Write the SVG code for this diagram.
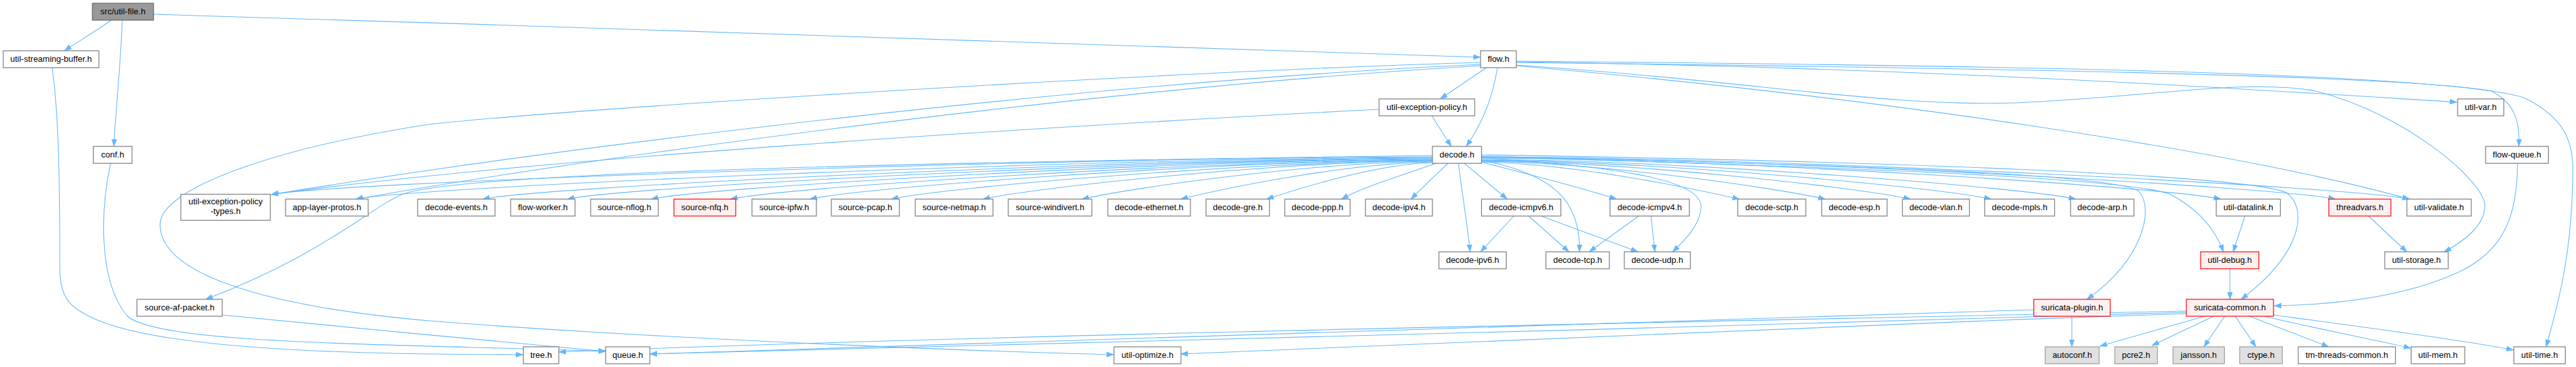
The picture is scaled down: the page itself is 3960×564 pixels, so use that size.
<svg xmlns="http://www.w3.org/2000/svg" width="3960" height="564" viewBox="0 0 3960 564">
<style>
.nd rect{fill:#ffffff;stroke:#7a7a7a;stroke-width:1.2}
.root rect{fill:#999999;stroke:#666666}
.ext rect{fill:#e0e0e0;stroke:#999999}
.tr rect{fill:#fff0f0;stroke:#ff0000}
text{font-family:"Liberation Sans",Arial,Helvetica,sans-serif;font-size:13px;text-anchor:middle;fill:#000000}
#edges path{fill:none;stroke:#63b8ff;stroke-width:1.1;marker-end:url(#a)}
</style>
<defs>
<marker id="a" markerWidth="12" markerHeight="10" refX="11" refY="4" orient="auto" markerUnits="userSpaceOnUse"><path d="M0,0 L11,4 L0,8 z" fill="#63b8ff" stroke="#63b8ff" stroke-width="0.5"/></marker>
</defs>
<rect width="3960" height="564" fill="#ffffff"/>
<g id="edges">
<path d="M171,31 C150,46 120,64 99,78"/>
<path d="M188,31 C186,90 178,170 175,225"/>
<path d="M236,22 C1000,45 1900,75 2276,88"/>
<path d="M80,104 C92,180 92,330 92,414 C92,460 110,475 150,492 C260,538 550,545 804,545"/>
<path d="M170,251 C155,320 150,430 195,485 C240,530 600,528 931,540"/>
<path d="M341,484 C500,500 800,528 931,540"/>
<path d="M2276,96 C1800,110 900,165 660,191 C420,228 246,290 246,345 C246,420 400,470 660,493 C1000,520 1500,540 1712,545"/>
<path d="M2276,99 C1700,125 900,220 417,299"/>
<path d="M2276,101 C1700,135 950,235 547,306"/>
<path d="M2120,168 C1600,195 800,245 417,299"/>
<path d="M2285,104 L2214,152"/>
<path d="M2302,104 C2296,140 2285,180 2254,225"/>
<path d="M2201,178 L2231,225"/>
<path d="M2331,95 C3000,105 3500,140 3777,157"/>
<path d="M2331,96 C3000,104 3700,115 3830,140 C3868,160 3874,190 3872,225"/>
<path d="M2331,94 C3000,100 3750,110 3880,150 C3945,182 3955,220 3955,260 C3955,380 3935,460 3914,533"/>
<path d="M2331,100 C2700,125 2900,165 3100,158 C3300,150 3450,120 3560,140 C3700,175 3820,280 3820,316 C3820,345 3790,370 3757,387"/>
<path d="M2331,101 C2900,150 3450,235 3704,306"/>
<path d="M2202,239 C1200,252 700,270 620,298 C570,318 500,390 316,460"/>
<path d="M2202,241 C1577,243 497,281 417,299"/>
<path d="M2202,242 C1623,244 627,288 547,306"/>
<path d="M2202,243 C1691,245 822,288 742,306"/>
<path d="M2202,244 C1736,246 952,288 872,306"/>
<path d="M2202,245 C1782,247 1081,288 1001,306"/>
<path d="M2202,246 C1824,248 1203,288 1123,306"/>
<path d="M2202,246 C1867,248 1325,288 1245,306"/>
<path d="M2202,247 C1911,249 1450,288 1370,306"/>
<path d="M2202,247 C1960,249 1591,288 1511,306"/>
<path d="M2202,248 C2013,250 1743,288 1663,306"/>
<path d="M2202,249 C2067,251 1880,290 1815,306"/>
<path d="M2202,250 C2113,252 1990,292 1947,306"/>
<path d="M2207,251 C2170,265 2100,285 2062,306"/>
<path d="M2226,251 C2210,266 2190,285 2169,306"/>
<path d="M2251,251 L2317,306"/>
<path d="M2242,251 C2248,300 2255,340 2260,387"/>
<path d="M2277,246 C2390,268 2430,310 2428,387"/>
<path d="M2277,242 C2450,255 2620,270 2615,320 C2612,345 2595,365 2571,387"/>
<path d="M2277,249 C2350,268 2430,288 2485,306"/>
<path d="M2277,249 C2416,251 2594,288 2674,306"/>
<path d="M2277,248 C2462,250 2726,288 2806,306"/>
<path d="M2277,247 C2508,249 2857,288 2937,306"/>
<path d="M2277,246 C2551,248 2981,288 3061,306"/>
<path d="M2277,245 C2597,247 3111,288 3191,306"/>
<path d="M2277,243 C2675,245 3334,288 3414,306"/>
<path d="M2277,242 C2737,244 3510,288 3590,306"/>
<path d="M2277,241 C2776,243 3624,288 3704,306"/>
<path d="M2277,241 C2900,258 3270,275 3335,298 C3375,318 3405,350 3418,387"/>
<path d="M2277,238 C2900,248 3450,268 3515,296 C3548,320 3540,390 3445,460"/>
<path d="M2277,240 C2900,255 3250,268 3288,294 C3312,320 3295,400 3208,460"/>
<path d="M3870,251 C3870,330 3850,385 3780,418 C3700,455 3600,468 3496,470"/>
<path d="M3641,332 L3700,387"/>
<path d="M3451,332 L3433,387"/>
<path d="M3428,413 L3428,460"/>
<path d="M2327,332 L2276,387"/>
<path d="M2350,332 L2412,387"/>
<path d="M2369,332 L2518,387"/>
<path d="M2519,332 L2443,387"/>
<path d="M2538,332 L2544,387"/>
<path d="M3495,484 C3650,505 3800,525 3864,538"/>
<path d="M3481,486 C3560,505 3650,522 3706,535"/>
<path d="M3458,486 L3580,533"/>
<path d="M3436,486 L3468,533"/>
<path d="M3420,486 L3388,533"/>
<path d="M3403,486 L3308,531"/>
<path d="M3389,486 L3228,532"/>
<path d="M3185,486 L3185,533"/>
<path d="M3361,478 C2600,495 1500,515 859,541"/>
<path d="M3361,480 C2600,500 1600,535 999,544"/>
<path d="M3361,482 C2800,500 2200,530 1815,544"/>
<path d="M3127,476 C2500,490 1700,525 999,544"/>
</g>
<g id="n_util_file" class="nd root"><rect x="142" y="5" width="94" height="26"/><text x="189" y="22">src/util-file.h</text></g>
<g id="n_usb" class="nd"><rect x="5" y="78" width="147" height="26"/><text x="78.5" y="95">util-streaming-buffer.h</text></g>
<g id="n_flow" class="nd"><rect x="2276" y="78" width="55" height="26"/><text x="2303.5" y="95">flow.h</text></g>
<g id="n_conf" class="nd"><rect x="143.5" y="225" width="59.5" height="26"/><text x="173.25" y="242">conf.h</text></g>
<g id="n_uexp" class="nd"><rect x="2120" y="152" width="147" height="26"/><text x="2193.5" y="169">util-exception-policy.h</text></g>
<g id="n_uvar" class="nd"><rect x="3778" y="152" width="71" height="26"/><text x="3813.5" y="169">util-var.h</text></g>
<g id="n_decode" class="nd"><rect x="2202" y="225" width="75.5" height="26"/><text x="2239.75" y="242">decode.h</text></g>
<g id="n_flowqueue" class="nd"><rect x="3821" y="225" width="96.5" height="26"/><text x="3869.25" y="242">flow-queue.h</text></g>
<g id="n_uexpt" class="nd"><rect x="278" y="298.5" width="137.5" height="40"/><text x="346.75" y="314">util-exception-policy</text><text x="346.75" y="329">-types.h</text></g>
<g id="n_alp" class="nd"><rect x="439" y="306" width="127" height="26"/><text x="502.5" y="323">app-layer-protos.h</text></g>
<g id="n_devents" class="nd"><rect x="642" y="306" width="119" height="26"/><text x="701.5" y="323">decode-events.h</text></g>
<g id="n_fworker" class="nd"><rect x="785" y="306" width="99" height="26"/><text x="834.5" y="323">flow-worker.h</text></g>
<g id="n_nflog" class="nd"><rect x="908" y="306" width="104" height="26"/><text x="960" y="323">source-nflog.h</text></g>
<g id="n_nfq" class="nd tr"><rect x="1036" y="306" width="95" height="26"/><text x="1083.5" y="323">source-nfq.h</text></g>
<g id="n_ipfw" class="nd"><rect x="1156" y="306" width="99" height="26"/><text x="1205.5" y="323">source-ipfw.h</text></g>
<g id="n_pcap" class="nd"><rect x="1278" y="306" width="104.5" height="26"/><text x="1330.25" y="323">source-pcap.h</text></g>
<g id="n_netmap" class="nd"><rect x="1407" y="306" width="119.5" height="26"/><text x="1466.75" y="323">source-netmap.h</text></g>
<g id="n_windivert" class="nd"><rect x="1550" y="306" width="128.5" height="26"/><text x="1614.25" y="323">source-windivert.h</text></g>
<g id="n_eth" class="nd"><rect x="1703" y="306" width="127" height="26"/><text x="1766.5" y="323">decode-ethernet.h</text></g>
<g id="n_gre" class="nd"><rect x="1854" y="306" width="97.5" height="26"/><text x="1902.75" y="323">decode-gre.h</text></g>
<g id="n_ppp" class="nd"><rect x="1975" y="306" width="100.5" height="26"/><text x="2025.25" y="323">decode-ppp.h</text></g>
<g id="n_ipv4" class="nd"><rect x="2099" y="306" width="103" height="26"/><text x="2150.5" y="323">decode-ipv4.h</text></g>
<g id="n_icmpv6" class="nd"><rect x="2277.5" y="306" width="122" height="26"/><text x="2338.5" y="323">decode-icmpv6.h</text></g>
<g id="n_icmpv4" class="nd"><rect x="2475" y="306" width="122" height="26"/><text x="2536" y="323">decode-icmpv4.h</text></g>
<g id="n_sctp" class="nd"><rect x="2671.5" y="306" width="104.5" height="26"/><text x="2723.75" y="323">decode-sctp.h</text></g>
<g id="n_esp" class="nd"><rect x="2800.5" y="306" width="100.5" height="26"/><text x="2850.75" y="323">decode-esp.h</text></g>
<g id="n_vlan" class="nd"><rect x="2924.5" y="306" width="103" height="26"/><text x="2976" y="323">decode-vlan.h</text></g>
<g id="n_mpls" class="nd"><rect x="3051" y="306" width="107.5" height="26"/><text x="3104.75" y="323">decode-mpls.h</text></g>
<g id="n_arp" class="nd"><rect x="3183" y="306" width="97.5" height="26"/><text x="3231.75" y="323">decode-arp.h</text></g>
<g id="n_datalink" class="nd"><rect x="3407" y="306" width="98.5" height="26"/><text x="3456.25" y="323">util-datalink.h</text></g>
<g id="n_threadvars" class="nd tr"><rect x="3580" y="306" width="95.5" height="26"/><text x="3627.75" y="323">threadvars.h</text></g>
<g id="n_validate" class="nd"><rect x="3700" y="306" width="99" height="26"/><text x="3749.5" y="323">util-validate.h</text></g>
<g id="n_ipv6" class="nd"><rect x="2212" y="387" width="103.5" height="26"/><text x="2263.75" y="404">decode-ipv6.h</text></g>
<g id="n_tcp" class="nd"><rect x="2376.5" y="387" width="97.5" height="26"/><text x="2425.25" y="404">decode-tcp.h</text></g>
<g id="n_udp" class="nd"><rect x="2497" y="387" width="101.5" height="26"/><text x="2547.75" y="404">decode-udp.h</text></g>
<g id="n_debug" class="nd tr"><rect x="3383" y="387" width="89.5" height="26"/><text x="3427.75" y="404">util-debug.h</text></g>
<g id="n_storage" class="nd"><rect x="3666" y="387" width="97.5" height="26"/><text x="3714.75" y="404">util-storage.h</text></g>
<g id="n_afpacket" class="nd"><rect x="210.5" y="460" width="131" height="26"/><text x="276" y="477">source-af-packet.h</text></g>
<g id="n_plugin" class="nd tr"><rect x="3126.5" y="460" width="117.5" height="26"/><text x="3185.25" y="477">suricata-plugin.h</text></g>
<g id="n_common" class="nd tr"><rect x="3361" y="460" width="134" height="26"/><text x="3428" y="477">suricata-common.h</text></g>
<g id="n_tree" class="nd"><rect x="804.5" y="533" width="54.5" height="26"/><text x="831.75" y="550">tree.h</text></g>
<g id="n_queue" class="nd"><rect x="931" y="533" width="68" height="26"/><text x="965" y="550">queue.h</text></g>
<g id="n_optimize" class="nd"><rect x="1712.5" y="533" width="103" height="26"/><text x="1764" y="550">util-optimize.h</text></g>
<g id="n_autoconf" class="nd ext"><rect x="3144" y="533" width="83" height="26"/><text x="3185.5" y="550">autoconf.h</text></g>
<g id="n_pcre2" class="nd ext"><rect x="3251" y="533" width="65.5" height="26"/><text x="3283.75" y="550">pcre2.h</text></g>
<g id="n_jansson" class="nd ext"><rect x="3340.5" y="533" width="79" height="26"/><text x="3380" y="550">jansson.h</text></g>
<g id="n_ctype" class="nd ext"><rect x="3443" y="533" width="65.5" height="26"/><text x="3475.75" y="550">ctype.h</text></g>
<g id="n_tmthreads" class="nd"><rect x="3533" y="533" width="149.5" height="26"/><text x="3607.75" y="550">tm-threads-common.h</text></g>
<g id="n_mem" class="nd"><rect x="3706.5" y="533" width="82.5" height="26"/><text x="3747.75" y="550">util-mem.h</text></g>
<g id="n_time" class="nd"><rect x="3864.5" y="533" width="79" height="26"/><text x="3904" y="550">util-time.h</text></g>
</svg>
